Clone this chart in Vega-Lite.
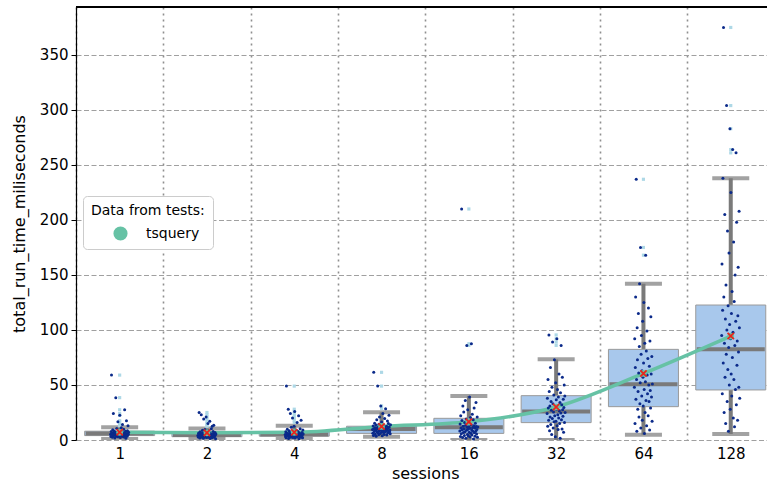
{
"$schema":"https://vega.github.io/schema/vega-lite/v6.json",
"width":691,"height":433,
"autosize":{"type":"none"},
"padding":{"left":76,"top":7,"right":0,"bottom":43},
"config":{"font":"DejaVu Sans","view":{"stroke":null},
 "axis":{"labelFont":"DejaVu Sans","titleFont":"DejaVu Sans","labelColor":"#000","titleColor":"#000","titleFontWeight":"normal","labelFontSize":15,"titleFontSize":16},
 "legend":{"orient":"none","legendX":7,"legendY":189,"fillColor":"#ffffff","strokeColor":"#cccccc","cornerRadius":4,"padding":8,"titleFont":"DejaVu Sans","labelFont":"DejaVu Sans","titleFontSize":14,"labelFontSize":14,"titleFontWeight":"normal","titleColor":"#000","labelColor":"#000","symbolSize":200,"symbolOffset":22,"labelOffset":18,"symbolStrokeWidth":0,"rowPadding":6,"titlePadding":8}},
"datasets":{
"stats":[
{"s":"1","lo":1,"q1":4,"med":6,"q3":8,"hi":11.5,"mean":7},
{"s":"2","lo":1,"q1":3,"med":4.5,"q3":6.5,"hi":10.5,"mean":6.5},
{"s":"4","lo":1,"q1":3.5,"med":5,"q3":7.5,"hi":13,"mean":7},
{"s":"8","lo":3,"q1":6,"med":10,"q3":12.5,"hi":25.2,"mean":12.3},
{"s":"16","lo":0,"q1":6,"med":11.5,"q3":19.7,"hi":40,"mean":16.5},
{"s":"32","lo":0,"q1":15.8,"med":26,"q3":40.3,"hi":73.3,"mean":30},
{"s":"64","lo":4.8,"q1":30.3,"med":50.6,"q3":82.4,"hi":142,"mean":60.5},
{"s":"128","lo":5.5,"q1":45.5,"med":82.4,"q3":122.7,"hi":238,"mean":94.5}],
"pts":[
{"s":"1","v":5.2},{"s":"1","v":3.1},{"s":"1","v":7.8},{"s":"1","v":59},{"s":"1","v":4.4},{"s":"1","v":6.1},{"s":"1","v":2.5},{"s":"1","v":9.3},{"s":"1","v":5.7},{"s":"1","v":24},
{"s":"1","v":3.8},{"s":"1","v":6.6},{"s":"1","v":8.2},{"s":"1","v":4.9},{"s":"1","v":1.8},{"s":"1","v":7.1},{"s":"1","v":5.5},{"s":"1","v":38.5},{"s":"1","v":3.3},{"s":"1","v":6.9},
{"s":"1","v":10.4},{"s":"1","v":4.1},{"s":"1","v":5.9},{"s":"1","v":2.9},{"s":"1","v":16.5},{"s":"1","v":7.5},{"s":"1","v":4.6},{"s":"1","v":6.3},{"s":"1","v":3.6},{"s":"1","v":8.8},
{"s":"1","v":22.5},{"s":"1","v":5.1},{"s":"1","v":2.2},{"s":"1","v":6.8},{"s":"1","v":4.3},{"s":"1","v":11.2},{"s":"1","v":5.4},{"s":"1","v":3.9},{"s":"1","v":7.3},{"s":"1","v":14},
{"s":"1","v":4.8},{"s":"1","v":6.2},{"s":"1","v":2.7},{"s":"1","v":9.8},{"s":"1","v":5.6},{"s":"1","v":3.4},{"s":"1","v":27.5},{"s":"1","v":6.4},{"s":"1","v":4.0},{"s":"1","v":7.9},
{"s":"1","v":1.5},{"s":"1","v":5.0},{"s":"1","v":17.5},{"s":"1","v":6.0},{"s":"1","v":3.5},{"s":"1","v":8.5},{"s":"1","v":4.7},{"s":"1","v":13},{"s":"1","v":5.3},{"s":"1","v":7.0},
{"s":"2","v":4.2},{"s":"2","v":2.8},{"s":"2","v":6.1},{"s":"2","v":3.5},{"s":"2","v":25},{"s":"2","v":5.0},{"s":"2","v":1.9},{"s":"2","v":7.4},{"s":"2","v":4.6},{"s":"2","v":3.1},
{"s":"2","v":5.8},{"s":"2","v":23},{"s":"2","v":2.4},{"s":"2","v":6.7},{"s":"2","v":4.0},{"s":"2","v":8.9},{"s":"2","v":3.7},{"s":"2","v":5.3},{"s":"2","v":1.6},{"s":"2","v":19},
{"s":"2","v":4.8},{"s":"2","v":6.3},{"s":"2","v":2.9},{"s":"2","v":9.6},{"s":"2","v":3.3},{"s":"2","v":5.5},{"s":"2","v":4.4},{"s":"2","v":21},{"s":"2","v":2.2},{"s":"2","v":7.0},
{"s":"2","v":5.1},{"s":"2","v":3.9},{"s":"2","v":6.5},{"s":"2","v":15},{"s":"2","v":2.6},{"s":"2","v":4.7},{"s":"2","v":8.1},{"s":"2","v":3.0},{"s":"2","v":5.7},{"s":"2","v":17},
{"s":"2","v":1.3},{"s":"2","v":4.1},{"s":"2","v":6.0},{"s":"2","v":3.6},{"s":"2","v":10.2},{"s":"2","v":4.9},{"s":"2","v":2.0},{"s":"2","v":12.5},{"s":"2","v":5.2},{"s":"2","v":3.4},
{"s":"2","v":7.7},{"s":"2","v":4.3},{"s":"2","v":13.5},{"s":"2","v":2.5},{"s":"2","v":5.9},{"s":"2","v":3.8},{"s":"2","v":6.9},{"s":"2","v":4.5},{"s":"2","v":1.1},{"s":"2","v":5.4},
{"s":"4","v":5.1},{"s":"4","v":3.2},{"s":"4","v":7.5},{"s":"4","v":2.1},{"s":"4","v":49},{"s":"4","v":4.4},{"s":"4","v":6.2},{"s":"4","v":9.8},{"s":"4","v":3.7},{"s":"4","v":5.6},
{"s":"4","v":28},{"s":"4","v":1.4},{"s":"4","v":4.9},{"s":"4","v":8.3},{"s":"4","v":3.0},{"s":"4","v":6.7},{"s":"4","v":4.1},{"s":"4","v":24},{"s":"4","v":2.6},{"s":"4","v":5.3},
{"s":"4","v":11.5},{"s":"4","v":3.5},{"s":"4","v":6.0},{"s":"4","v":4.6},{"s":"4","v":20},{"s":"4","v":2.3},{"s":"4","v":7.1},{"s":"4","v":5.0},{"s":"4","v":3.9},{"s":"4","v":12.4},
{"s":"4","v":4.2},{"s":"4","v":26},{"s":"4","v":1.9},{"s":"4","v":6.5},{"s":"4","v":3.3},{"s":"4","v":5.8},{"s":"4","v":8.9},{"s":"4","v":4.7},{"s":"4","v":2.8},{"s":"4","v":16},
{"s":"4","v":5.4},{"s":"4","v":3.6},{"s":"4","v":7.8},{"s":"4","v":4.0},{"s":"4","v":22},{"s":"4","v":1.2},{"s":"4","v":6.3},{"s":"4","v":3.1},{"s":"4","v":5.2},{"s":"4","v":10.3},
{"s":"4","v":4.5},{"s":"4","v":2.4},{"s":"4","v":18},{"s":"4","v":5.7},{"s":"4","v":3.4},{"s":"4","v":6.8},{"s":"4","v":4.8},{"s":"4","v":2.0},{"s":"4","v":9.1},{"s":"4","v":5.5},
{"s":"8","v":9.5},{"s":"8","v":6.2},{"s":"8","v":12.8},{"s":"8","v":4.1},{"s":"8","v":61.5},{"s":"8","v":10.3},{"s":"8","v":7.7},{"s":"8","v":15.2},{"s":"8","v":11.1},{"s":"8","v":5.3},
{"s":"8","v":8.8},{"s":"8","v":13.6},{"s":"8","v":3.4},{"s":"8","v":10.9},{"s":"8","v":18.5},{"s":"8","v":7.2},{"s":"8","v":9.9},{"s":"8","v":49},{"s":"8","v":6.6},{"s":"8","v":11.8},
{"s":"8","v":4.7},{"s":"8","v":14.3},{"s":"8","v":8.4},{"s":"8","v":21},{"s":"8","v":10.1},{"s":"8","v":5.8},{"s":"8","v":12.2},{"s":"8","v":31},{"s":"8","v":9.2},{"s":"8","v":7.0},
{"s":"8","v":16.4},{"s":"8","v":11.5},{"s":"8","v":3.9},{"s":"8","v":8.1},{"s":"8","v":24},{"s":"8","v":10.6},{"s":"8","v":6.9},{"s":"8","v":13.1},{"s":"8","v":9.6},{"s":"8","v":5.1},
{"s":"8","v":19.5},{"s":"8","v":11.3},{"s":"8","v":7.5},{"s":"8","v":28.5},{"s":"8","v":10.0},{"s":"8","v":8.6},{"s":"8","v":12.5},{"s":"8","v":4.5},{"s":"8","v":9.3},{"s":"8","v":17.2},
{"s":"8","v":6.4},{"s":"8","v":10.8},{"s":"8","v":14.9},{"s":"8","v":8.0},{"s":"8","v":22.5},{"s":"8","v":11.9},{"s":"8","v":7.4},{"s":"8","v":9.0},{"s":"8","v":5.6},{"s":"8","v":13.9},
{"s":"16","v":8.2},{"s":"16","v":14.5},{"s":"16","v":3.1},{"s":"16","v":22},{"s":"16","v":11.0},{"s":"16","v":5.6},{"s":"16","v":210},{"s":"16","v":17.8},{"s":"16","v":9.4},{"s":"16","v":2.2},
{"s":"16","v":31},{"s":"16","v":12.6},{"s":"16","v":6.8},{"s":"16","v":25.5},{"s":"16","v":10.2},{"s":"16","v":4.0},{"s":"16","v":15.9},{"s":"16","v":7.5},{"s":"16","v":36},{"s":"16","v":13.3},
{"s":"16","v":1.5},{"s":"16","v":19.2},{"s":"16","v":8.9},{"s":"16","v":86},{"s":"16","v":11.7},{"s":"16","v":5.1},{"s":"16","v":27.5},{"s":"16","v":9.8},{"s":"16","v":3.6},{"s":"16","v":16.8},
{"s":"16","v":12.1},{"s":"16","v":7.0},{"s":"16","v":39},{"s":"16","v":10.6},{"s":"16","v":2.8},{"s":"16","v":20.5},{"s":"16","v":6.2},{"s":"16","v":14.0},{"s":"16","v":87.5},{"s":"16","v":9.1},
{"s":"16","v":4.6},{"s":"16","v":23.5},{"s":"16","v":11.4},{"s":"16","v":8.0},{"s":"16","v":18.3},{"s":"16","v":1.0},{"s":"16","v":13.0},{"s":"16","v":29},{"s":"16","v":6.5},{"s":"16","v":10.9},
{"s":"16","v":3.3},{"s":"16","v":15.2},{"s":"16","v":7.9},{"s":"16","v":34},{"s":"16","v":12.3},{"s":"16","v":5.4},{"s":"16","v":9.6},{"s":"16","v":21},{"s":"16","v":2.5},{"s":"16","v":11.9},
{"s":"32","v":24},{"s":"32","v":38},{"s":"32","v":12.5},{"s":"32","v":55},{"s":"32","v":29},{"s":"32","v":18},{"s":"32","v":95.5},{"s":"32","v":44},{"s":"32","v":8.5},{"s":"32","v":31},
{"s":"32","v":21},{"s":"32","v":66},{"s":"32","v":14},{"s":"32","v":35},{"s":"32","v":27},{"s":"32","v":5},{"s":"32","v":48},{"s":"32","v":19.5},{"s":"32","v":89},{"s":"32","v":33},
{"s":"32","v":11},{"s":"32","v":25.5},{"s":"32","v":41},{"s":"32","v":16.5},{"s":"32","v":73},{"s":"32","v":22},{"s":"32","v":30},{"s":"32","v":3},{"s":"32","v":52},{"s":"32","v":17},
{"s":"32","v":36.5},{"s":"32","v":28},{"s":"32","v":92},{"s":"32","v":13},{"s":"32","v":46},{"s":"32","v":23},{"s":"32","v":9.5},{"s":"32","v":39},{"s":"32","v":20},{"s":"32","v":60},
{"s":"32","v":26.5},{"s":"32","v":15},{"s":"32","v":34},{"s":"32","v":1.5},{"s":"32","v":43},{"s":"32","v":24.5},{"s":"32","v":86},{"s":"32","v":18.5},{"s":"32","v":32},{"s":"32","v":10},
{"s":"32","v":57},{"s":"32","v":27.5},{"s":"32","v":21.5},{"s":"32","v":37},{"s":"32","v":7},{"s":"32","v":29.5},{"s":"32","v":50},{"s":"32","v":16},{"s":"32","v":40},{"s":"32","v":25},
{"s":"64","v":48},{"s":"64","v":92},{"s":"64","v":15},{"s":"64","v":66},{"s":"64","v":130},{"s":"64","v":37},{"s":"64","v":237},{"s":"64","v":55},{"s":"64","v":8},{"s":"64","v":102},
{"s":"64","v":73},{"s":"64","v":28},{"s":"64","v":44},{"s":"64","v":115},{"s":"64","v":61},{"s":"64","v":21},{"s":"64","v":85},{"s":"64","v":142},{"s":"64","v":33},{"s":"64","v":52},
{"s":"64","v":175},{"s":"64","v":11},{"s":"64","v":78},{"s":"64","v":95},{"s":"64","v":40},{"s":"64","v":63},{"s":"64","v":18},{"s":"64","v":108},{"s":"64","v":57},{"s":"64","v":31},
{"s":"64","v":70},{"s":"64","v":125},{"s":"64","v":46},{"s":"64","v":6},{"s":"64","v":88},{"s":"64","v":25},{"s":"64","v":53},{"s":"64","v":168},{"s":"64","v":36},{"s":"64","v":81},
{"s":"64","v":13},{"s":"64","v":99},{"s":"64","v":59},{"s":"64","v":42},{"s":"64","v":74},{"s":"64","v":22},{"s":"64","v":120},{"s":"64","v":50},{"s":"64","v":35},{"s":"64","v":67},
{"s":"64","v":9},{"s":"64","v":90},{"s":"64","v":45},{"s":"64","v":29},{"s":"64","v":112},{"s":"64","v":60},{"s":"64","v":39},{"s":"64","v":76},{"s":"64","v":17},{"s":"64","v":51},
{"s":"128","v":95},{"s":"128","v":160},{"s":"128","v":42},{"s":"128","v":118},{"s":"128","v":238},{"s":"128","v":70},{"s":"128","v":375},{"s":"128","v":130},{"s":"128","v":25},{"s":"128","v":88},
{"s":"128","v":205},{"s":"128","v":57},{"s":"128","v":110},{"s":"128","v":15},{"s":"128","v":141},{"s":"128","v":78},{"s":"128","v":304},{"s":"128","v":100},{"s":"128","v":35},{"s":"128","v":190},
{"s":"128","v":64},{"s":"128","v":122},{"s":"128","v":8},{"s":"128","v":84},{"s":"128","v":170},{"s":"128","v":50},{"s":"128","v":105},{"s":"128","v":283},{"s":"128","v":28},{"s":"128","v":92},
{"s":"128","v":225},{"s":"128","v":60},{"s":"128","v":115},{"s":"128","v":40},{"s":"128","v":135},{"s":"128","v":75},{"s":"128","v":264},{"s":"128","v":98},{"s":"128","v":20},{"s":"128","v":180},
{"s":"128","v":55},{"s":"128","v":126},{"s":"128","v":12},{"s":"128","v":86},{"s":"128","v":150},{"s":"128","v":46},{"s":"128","v":108},{"s":"128","v":261},{"s":"128","v":32},{"s":"128","v":198},
{"s":"128","v":68},{"s":"128","v":90},{"s":"128","v":18},{"s":"128","v":113},{"s":"128","v":157},{"s":"128","v":80},{"s":"128","v":48},{"s":"128","v":208},{"s":"128","v":102},{"s":"128","v":38}
]},
"layer":[
{"data":{"name":"stats"},"mark":{"type":"rule","color":"#000","strokeWidth":1.2},"encoding":{"y":{"datum":393.6,"type":"quantitative","scale":{"domain":[0,393.6],"nice":false,"zero":false}}}},
{"data":{"name":"stats"},"mark":{"type":"rule","color":"#7a7a7a","strokeWidth":4},
 "encoding":{
  "x":{"field":"s","type":"nominal","scale":{"type":"band","domain":["1","2","4","8","16","32","64","128"],"range":[0,698.4],"paddingInner":0,"paddingOuter":0},
   "axis":{"tickBand":"extent","grid":true,"gridDash":[2,4],"gridColor":"#8f8f8f","gridWidth":1.6,"ticks":false,"domain":false,"labelPadding":6,"labelAngle":0,"title":"sessions","titlePadding":4}},
  "y":{"field":"lo","type":"quantitative","scale":{"domain":[0,393.6],"nice":false,"zero":false},
   "axis":{"values":[0,50,100,150,200,250,300,350],"grid":true,"gridDash":[5,2.5],"gridColor":"#a0a0a0","gridWidth":1.2,"domainColor":"#000","domainWidth":1.2,"tickColor":"#000","tickSize":5,"labelPadding":3,"title":"total_run_time_miliseconds","titlePadding":12}},
  "y2":{"field":"hi"}}},
{"data":{"name":"stats"},"mark":{"type":"bar","color":"#a8c8ec","stroke":"#9a9a9a","strokeWidth":1,"width":70},
 "encoding":{"x":{"field":"s","type":"nominal","scale":{"domain":["1","2","4","8","16","32","64","128"]}},"y":{"field":"q1","type":"quantitative"},"y2":{"field":"q3"}}},
{"data":{"name":"stats"},"mark":{"type":"tick","color":"#7a7a7a","thickness":4,"size":37,"clip":true},
 "encoding":{"x":{"field":"s","type":"nominal","scale":{"domain":["1","2","4","8","16","32","64","128"]}},"y":{"field":"hi","type":"quantitative"}}},
{"data":{"name":"stats"},"mark":{"type":"tick","color":"#7a7a7a","thickness":4,"size":37,"clip":true},
 "encoding":{"x":{"field":"s","type":"nominal","scale":{"domain":["1","2","4","8","16","32","64","128"]}},"y":{"field":"lo","type":"quantitative"}}},
{"data":{"name":"stats"},"mark":{"type":"bar","fill":"#7a7a7a","stroke":"#7a7a7a","strokeWidth":4,"width":68},
 "encoding":{"x":{"field":"s","type":"nominal","scale":{"domain":["1","2","4","8","16","32","64","128"]}},"y":{"field":"med","type":"quantitative"},"y2":{"field":"med"}}},
{"data":{"name":"stats"},"mark":{"type":"line","color":"#66c2a5","strokeWidth":3.5,"interpolate":"monotone"},
 "encoding":{"x":{"field":"s","type":"nominal","sort":null,"scale":{"domain":["1","2","4","8","16","32","64","128"]}},"y":{"field":"mean","type":"quantitative"}}},
{"data":{"name":"pts"},"transform":[{"lookup":"s","from":{"data":{"name":"stats"},"key":"s","fields":["lo","hi"]}},{"filter":"datum.v > datum.hi || datum.v < datum.lo"}],
 "mark":{"type":"square","color":"#add8e6","size":10,"opacity":1},
 "encoding":{"x":{"field":"s","type":"nominal","scale":{"domain":["1","2","4","8","16","32","64","128"]}},"y":{"field":"v","type":"quantitative"}}},
{"data":{"name":"pts"},"transform":[{"window":[{"op":"row_number","as":"r"}],"groupby":["s"]}],
 "mark":{"type":"circle","color":"#0b2a8a","size":9,"opacity":1},
 "encoding":{"x":{"field":"s","type":"nominal","scale":{"domain":["1","2","4","8","16","32","64","128"]}},
  "xOffset":{"field":"r","type":"quantitative","scale":{"domain":[1,60],"range":[34.6,52.6]}},
  "y":{"field":"v","type":"quantitative"}}},
{"data":{"name":"stats"},"mark":{"type":"circle","size":45,"opacity":1},
 "encoding":{"x":{"field":"s","type":"nominal","scale":{"domain":["1","2","4","8","16","32","64","128"]}},"y":{"field":"mean","type":"quantitative"},
  "color":{"datum":"tsquery","type":"nominal","scale":{"range":["#66c2a5"]},"legend":{"title":"Data from tests:","symbolType":"circle"}}}},
{"data":{"name":"stats"},"mark":{"type":"point","shape":"M-1,-1L1,1M-1,1L1,-1","stroke":"#e8251c","strokeWidth":1.8,"filled":false,"size":40,"opacity":1},
 "encoding":{"x":{"field":"s","type":"nominal","scale":{"domain":["1","2","4","8","16","32","64","128"]}},"y":{"field":"mean","type":"quantitative"}}}
]
}
